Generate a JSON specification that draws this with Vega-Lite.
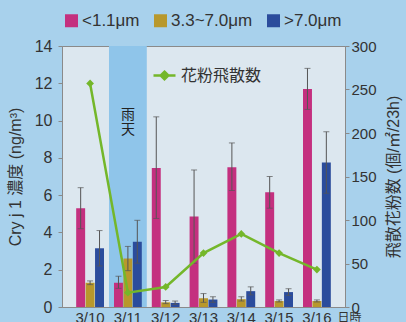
{
  "$schema": "https://vega.github.io/schema/vega-lite/v6.json",
  "width": 283,
  "height": 261,
  "autosize": {"type": "none"},
  "padding": {"left": 62, "top": 46, "right": 61, "bottom": 15},
  "background": "#a8d1ec",
  "view": {"fill": "#dce7ef", "stroke": "#8a8a8a", "strokeWidth": 1},
  "config": {
    "font": "Liberation Sans, 'Noto Sans CJK JP', sans-serif",
    "axis": {
      "labelFont": "Liberation Sans, 'Noto Sans CJK JP', sans-serif",
      "titleFont": "Liberation Sans, 'Noto Sans CJK JP', sans-serif",
      "labelColor": "#333333",
      "titleColor": "#333333",
      "domainColor": "#8a8a8a",
      "tickColor": "#8a8a8a",
      "labelFontSize": 16,
      "titleFontSize": 16,
      "titleFontWeight": "normal",
      "grid": false,
      "tickSize": 4
    },
    "legend": {
      "labelFont": "Liberation Sans, 'Noto Sans CJK JP', sans-serif",
      "labelColor": "#333333",
      "padding": 0
    }
  },
  "datasets": {
    "bars": [
      {"date": "3/10", "size": "<1.1μm", "value": 5.3, "lo": 4.2, "hi": 6.4},
      {"date": "3/10", "size": "3.3~7.0μm", "value": 1.3, "lo": 1.2, "hi": 1.4},
      {"date": "3/10", "size": ">7.0μm", "value": 3.15, "lo": 2.2, "hi": 4.1},
      {"date": "3/11", "size": "<1.1μm", "value": 1.3, "lo": 1.0, "hi": 1.65},
      {"date": "3/11", "size": "3.3~7.0μm", "value": 2.6, "lo": 1.95, "hi": 3.25},
      {"date": "3/11", "size": ">7.0μm", "value": 3.5, "lo": 2.35, "hi": 4.65},
      {"date": "3/12", "size": "<1.1μm", "value": 7.45, "lo": 4.75, "hi": 10.2},
      {"date": "3/12", "size": "3.3~7.0μm", "value": 0.25, "lo": 0.18, "hi": 0.35},
      {"date": "3/12", "size": ">7.0μm", "value": 0.22, "lo": 0.14, "hi": 0.32},
      {"date": "3/13", "size": "<1.1μm", "value": 4.85, "lo": 2.35, "hi": 7.35},
      {"date": "3/13", "size": "3.3~7.0μm", "value": 0.47, "lo": 0.25, "hi": 0.72},
      {"date": "3/13", "size": ">7.0μm", "value": 0.4, "lo": 0.25, "hi": 0.55},
      {"date": "3/14", "size": "<1.1μm", "value": 7.5, "lo": 6.25, "hi": 8.8},
      {"date": "3/14", "size": "3.3~7.0μm", "value": 0.42, "lo": 0.32, "hi": 0.55},
      {"date": "3/14", "size": ">7.0μm", "value": 0.85, "lo": 0.65, "hi": 1.08},
      {"date": "3/15", "size": "<1.1μm", "value": 6.15, "lo": 5.3, "hi": 7.0},
      {"date": "3/15", "size": "3.3~7.0μm", "value": 0.32, "lo": 0.27, "hi": 0.38},
      {"date": "3/15", "size": ">7.0μm", "value": 0.8, "lo": 0.62, "hi": 0.98},
      {"date": "3/16", "size": "<1.1μm", "value": 11.7, "lo": 10.6, "hi": 12.8},
      {"date": "3/16", "size": "3.3~7.0μm", "value": 0.32, "lo": 0.27, "hi": 0.38},
      {"date": "3/16", "size": ">7.0μm", "value": 7.75, "lo": 6.1, "hi": 9.4}
    ],
    "pollen": [
      {"date": "3/10", "series": "花粉飛散数", "count": 257},
      {"date": "3/11", "series": "花粉飛散数", "count": 16.5},
      {"date": "3/12", "series": "花粉飛散数", "count": 23},
      {"date": "3/13", "series": "花粉飛散数", "count": 62},
      {"date": "3/14", "series": "花粉飛散数", "count": 84},
      {"date": "3/15", "series": "花粉飛散数", "count": 62},
      {"date": "3/16", "series": "花粉飛散数", "count": 43}
    ],
    "rain": [
      {"date": "3/11", "label": "雨\n天", "pos": 10.3}
    ]
  },
  "layer": [
    {
      "layer": [
        {
          "data": {"name": "rain"},
          "mark": {"type": "rect", "color": "#8fc5ea"},
          "encoding": {
            "x": {
              "field": "date", "type": "nominal",
              "sort": ["3/10", "3/11", "3/12", "3/13", "3/14", "3/15", "3/16"],
              "scale": {"domain": ["3/10", "3/11", "3/12", "3/13", "3/14", "3/15", "3/16"], "paddingInner": 0, "paddingOuter": 0.243},
              "axis": {
                "title": "日時", "labelAngle": 0, "ticks": false, "labelPadding": 3,
                "labelFontSize": 15, "titleFontSize": 12,
                "titleX": 275, "titleY": 5, "titleAlign": "left", "titleBaseline": "top"
              }
            }
          }
        },
        {
          "data": {"name": "bars"},
          "mark": {"type": "bar"},
          "encoding": {
            "x": {"field": "date", "type": "nominal"},
            "xOffset": {
              "field": "size", "type": "nominal",
              "sort": ["<1.1μm", "3.3~7.0μm", ">7.0μm"],
              "scale": {"paddingOuter": 0.53, "paddingInner": 0.05}
            },
            "y": {
              "field": "value", "type": "quantitative",
              "scale": {"domain": [0, 14], "nice": false},
              "axis": {
                "title": "Cry j 1 濃度 (ng/m³)", "values": [0, 2, 4, 6, 8, 10, 12, 14], "labelOverlap": false,
                "titleX": -47, "titleY": 130.5, "titleAngle": -90,
                "titleAlign": "center", "titleBaseline": "middle", "labelPadding": 6
              }
            },
            "color": {
              "field": "size", "type": "nominal",
              "sort": ["<1.1μm", "3.3~7.0μm", ">7.0μm"],
              "scale": {"domain": ["<1.1μm", "3.3~7.0μm", ">7.0μm"], "range": ["#c4307f", "#b8982c", "#2b4c9c"]},
              "legend": {
                "orient": "none", "legendX": 1, "legendY": -34, "direction": "horizontal",
                "title": null, "symbolType": "square", "symbolSize": 169,
                "symbolStrokeWidth": 0, "labelFontSize": 17, "columnPadding": 12, "labelOffset": 2
              }
            }
          }
        },
        {
          "data": {"name": "bars"},
          "mark": {"type": "rule", "color": "#555555", "strokeWidth": 1},
          "encoding": {
            "x": {"field": "date", "type": "nominal"},
            "xOffset": {"field": "size", "type": "nominal", "sort": ["<1.1μm", "3.3~7.0μm", ">7.0μm"]},
            "y": {
              "field": "lo", "type": "quantitative",
              "axis": {
                "title": "Cry j 1 濃度 (ng/m³)", "values": [0, 2, 4, 6, 8, 10, 12, 14], "labelOverlap": false,
                "titleX": -47, "titleY": 130.5, "titleAngle": -90,
                "titleAlign": "center", "titleBaseline": "middle", "labelPadding": 6
              }
            },
            "y2": {"field": "hi"}
          }
        },
        {
          "data": {"name": "bars"},
          "mark": {"type": "tick", "color": "#555555", "thickness": 1, "size": 6},
          "encoding": {
            "x": {"field": "date", "type": "nominal"},
            "xOffset": {"field": "size", "type": "nominal", "sort": ["<1.1μm", "3.3~7.0μm", ">7.0μm"]},
            "y": {
              "field": "hi", "type": "quantitative",
              "axis": {
                "title": "Cry j 1 濃度 (ng/m³)", "values": [0, 2, 4, 6, 8, 10, 12, 14], "labelOverlap": false,
                "titleX": -47, "titleY": 130.5, "titleAngle": -90,
                "titleAlign": "center", "titleBaseline": "middle", "labelPadding": 6
              }
            }
          }
        },
        {
          "data": {"name": "bars"},
          "mark": {"type": "tick", "color": "#555555", "thickness": 1, "size": 6},
          "encoding": {
            "x": {"field": "date", "type": "nominal"},
            "xOffset": {"field": "size", "type": "nominal", "sort": ["<1.1μm", "3.3~7.0μm", ">7.0μm"]},
            "y": {
              "field": "lo", "type": "quantitative",
              "axis": {
                "title": "Cry j 1 濃度 (ng/m³)", "values": [0, 2, 4, 6, 8, 10, 12, 14], "labelOverlap": false,
                "titleX": -47, "titleY": 130.5, "titleAngle": -90,
                "titleAlign": "center", "titleBaseline": "middle", "labelPadding": 6
              }
            }
          }
        },
        {
          "data": {"name": "rain"},
          "mark": {"type": "text", "lineBreak": "\n", "fontSize": 14, "color": "#222222", "baseline": "middle", "lineHeight": 15, "font": "'Noto Sans CJK JP', sans-serif"},
          "encoding": {
            "x": {"field": "date", "type": "nominal"},
            "y": {
              "field": "pos", "type": "quantitative",
              "axis": {
                "title": "Cry j 1 濃度 (ng/m³)", "values": [0, 2, 4, 6, 8, 10, 12, 14], "labelOverlap": false,
                "titleX": -47, "titleY": 130.5, "titleAngle": -90,
                "titleAlign": "center", "titleBaseline": "middle", "labelPadding": 6
              }
            },
            "text": {"field": "label"}
          }
        }
      ]
    },
    {
      "layer": [
        {
          "data": {"name": "pollen"},
          "mark": {"type": "line", "strokeWidth": 2.5},
          "encoding": {
            "x": {"field": "date", "type": "nominal"},
            "y": {
              "field": "count", "type": "quantitative",
              "scale": {"domain": [0, 300], "nice": false},
              "axis": {
                "orient": "right", "title": "飛散花粉数 (個/㎡/23h)", "values": [0, 50, 100, 150, 200, 250, 300], "labelOverlap": false,
                "titleX": 48, "titleY": 130.5, "titleAngle": -90,
                "titleAlign": "center", "titleBaseline": "middle", "labelPadding": 2, "labelFontSize": 15
              }
            },
            "stroke": {
              "field": "series", "type": "nominal",
              "scale": {"range": ["#74b72a"]},
              "legend": {
                "orient": "none", "legendX": 90, "legendY": 17, "title": null,
                "symbolType": "M-1,0L1,0M0,-0.35L0.35,0L0,0.35L-0.35,0Z",
                "symbolSize": 484, "symbolStrokeWidth": 2.5, "symbolFillColor": "#74b72a",
                "labelFontSize": 16, "labelOffset": 4
              }
            }
          }
        },
        {
          "data": {"name": "pollen"},
          "mark": {"type": "point", "shape": "diamond", "filled": true, "size": 60, "opacity": 1},
          "encoding": {
            "x": {"field": "date", "type": "nominal"},
            "y": {
              "field": "count", "type": "quantitative",
              "axis": {
                "orient": "right", "title": "飛散花粉数 (個/㎡/23h)", "values": [0, 50, 100, 150, 200, 250, 300], "labelOverlap": false,
                "titleX": 48, "titleY": 130.5, "titleAngle": -90,
                "titleAlign": "center", "titleBaseline": "middle", "labelPadding": 2, "labelFontSize": 15
              }
            },
            "color": {"value": "#74b72a"}
          }
        }
      ]
    }
  ],
  "resolve": {"scale": {"y": "independent", "color": "independent"}}
}
